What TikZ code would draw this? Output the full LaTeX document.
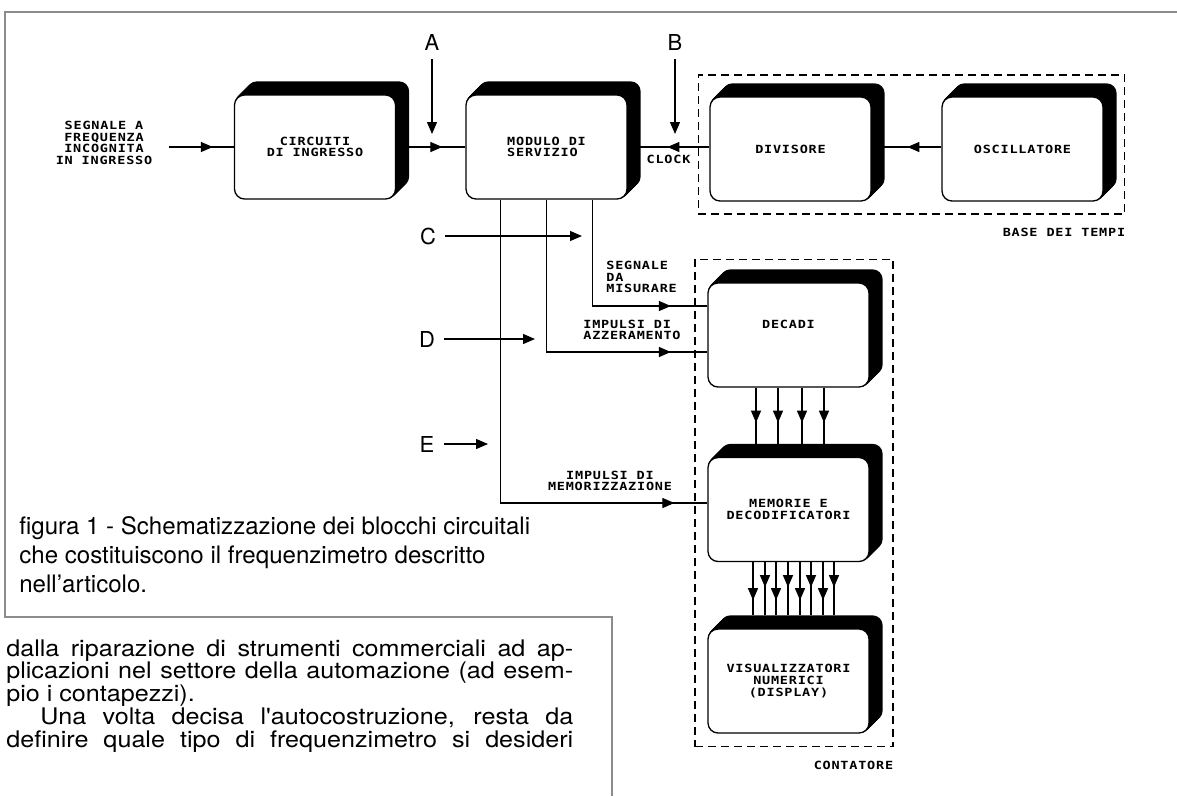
\documentclass[tikz,border=0pt]{standalone}
\usepackage{fontspec}
\setmainfont{TeX Gyre Heros}
\newfontfamily\bodyfont[FakeStretch=1.1]{TeX Gyre Heros}
\newfontfamily\plotfont[FakeStretch=1.2,LetterSpace=7]{DejaVu Sans Mono}
\usepackage{tikz}
\usetikzlibrary{positioning, arrows.meta, decorations.markings, backgrounds}
\definecolor{framegray}{HTML}{8C8C8C}
\newcommand\plotlabel{\plotfont\bfseries\fontsize{6.4}{6.66}\selectfont}

\begin{document}
\begin{tikzpicture}[x=0.02cm, y=-0.02cm,
    block/.style={draw, fill=white, line width=0.75pt, rounded corners=0.2cm,
      minimum width=3.22cm, minimum height=2.08cm, inner sep=0pt, align=center, font=\plotlabel},
    tag/.style={font=\plotlabel, inner sep=0pt},
    letter/.style={font=\fontsize{12.5}{12.5}\selectfont, inner sep=0.18cm},
    dashframe/.style={draw, dash pattern=on 0.16cm off 0.1cm, line width=0.6pt, inner sep=0pt},
    wire/.style={line width=0.7pt},
    arrowed/.style={-{Triangle[length=0.24cm,width=0.2cm]}},
    arrowat/.style={decoration={markings, mark=at position #1 with {\arrow{Triangle[length=0.24cm,width=0.2cm]}}},
      postaction={decorate}},
  ]
  \useasboundingbox (0,0) rectangle (1177,796);

  % page frame
  \draw[framegray, line width=0.8pt] (1177,12) -- (5,12) -- (5,617) -- (612,617) -- (612,796);

  % blocks
  \node[block] (circ) at (315,147) {CIRCUITI\\DI INGRESSO};
  \node[block, align=left] (mod) at (546.5,147) {MODULO DI\\SERVIZIO};
  \node[block] (div) at (790.5,149) {DIVISORE};
  \node[block] (osc) at (1022.5,149) {OSCILLATORE};
  \node[block, text depth=0.44cm] (dec) at (788.5,335) {DECADI};
  \node[block] (mem) at (788.5,509.5) {MEMORIE E\\DECODIFICATORI};
  \node[block] (disp) at (788.5,681) {VISUALIZZATORI\\NUMERICI\\(DISPLAY)};

  % black extrusion behind the blocks
  \begin{scope}[on background layer]
    \foreach \b in {circ,mod,div,osc,dec,mem,disp}
      \foreach \k in {1,...,13}
        \fill[rounded corners=0.2cm] ([xshift=\k*0.02cm, yshift=\k*0.02cm]\b.south west)
          rectangle ([xshift=\k*0.02cm, yshift=\k*0.02cm]\b.north east);
  \end{scope}

  % dashed groups
  \node[dashframe, minimum width=8.54cm, minimum height=2.78cm] (base) at (911.5,144.5) {};
  \node[tag, anchor=east] at ([yshift=-0.36cm]base.south east) {BASE DEI TEMPI};
  \node[dashframe, minimum width=3.96cm, minimum height=9.76cm] (cont) at (794,503) {};
  \node[tag, anchor=east] at ([yshift=-0.36cm]cont.south east) {CONTATORE};

  % input signal
  \node[tag, align=center, inner xsep=0.32cm] (insig) at (104,143) {SEGNALE A\\FREQUENZA\\INCOGNITA\\IN INGRESSO};
  \draw[wire, arrowat=-0.42cm] (insig.east |- circ.west) -- (circ.west);
  \draw[wire, arrowat=-0.46cm] (circ) -- (mod);
  \draw[wire, arrowat=0.68cm] (osc.west |- mod) -- (div.east |- mod);
  \draw[wire, arrowat=0.84cm] (div.west |- mod) -- node[tag, below=0.16cm] {CLOCK} (mod.east);

  % test points
  \node[letter] (labA) at (432,42) {A};
  \node[letter] (labB) at (675,42) {B};
  \node[letter] (labC) at (428,236) {C};
  \node[letter] (labD) at (427,339) {D};
  \node[letter] (labE) at (427,444) {E};
  \coordinate (aEnd) at (432,134);
  \coordinate (bEnd) at (675,134);
  \coordinate (cEnd) at (582,236);
  \coordinate (dEnd) at (535,339);
  \coordinate (eEnd) at (488,444);
  \draw[wire, arrowed] (labA) -- (aEnd);
  \draw[wire, arrowed] (labB) -- (bEnd);
  \draw[wire, arrowed] (labC) -- (cEnd);
  \draw[wire, arrowed] (labD) -- (dEnd);
  \draw[wire, arrowed] (labE) -- (eEnd);

  % service module outputs
  \coordinate (segIn) at ([yshift=0.58cm]dec.west);
  \coordinate (azzIn) at ([yshift=-0.34cm]dec.west);
  \coordinate (memIn) at ([yshift=0.13cm]mem.west);
  \draw[wire, arrowat=-0.73cm] ([xshift=0.92cm]mod.south) |- (segIn);
  \draw[wire, arrowat=-0.73cm] (mod.south) |- (azzIn);
  \draw[wire, arrowat=-0.66cm] ([xshift=-0.92cm]mod.south) |- (memIn);
  \node[tag, align=left, anchor=west] at (606,277) {SEGNALE\\DA\\MISURARE};
  \node[tag, align=left, anchor=west] at (583,330) {IMPULSI DI\\AZZERAMENTO};
  \node[tag, align=center] at (610,481) {IMPULSI DI\\MEMORIZZAZIONE};

  % buses
  \foreach \dx in {-0.65cm,-0.21cm,0.27cm,0.71cm}
    \draw[wire, arrowat=0.7cm] ([xshift=\dx]dec.south) -- ([xshift=\dx, yshift=0.24cm]mem.north);
  \foreach \dx/\tipat in {-0.71cm/0.76cm,-0.47cm/0.5cm,-0.25cm/0.76cm,-0.01cm/0.5cm,
                          0.23cm/0.76cm,0.45cm/0.5cm,0.69cm/0.76cm,0.91cm/0.5cm}
    \draw[wire, arrowat=\tipat] ([xshift=\dx]mem.south) -- ([xshift=\dx, yshift=0.26cm]disp.north);

  % caption and running text
  \node[anchor=north west, align=left, inner sep=0pt, font=\fontsize{13.7}{16.5}\selectfont] (caption) at (19,516)
    {figura 1 - Schematizzazione dei blocchi circuitali\\che costituiscono il frequenzimetro descritto\\nell'articolo.};
  \node[anchor=north west, inner sep=0pt, text width=11.34cm, align=justify] (body) at (6,639)
    {\bodyfont\fontsize{13}{13}\selectfont\tolerance=10000 \hbadness=10000 \lineskiplimit=-5pt
     \noindent dalla riparazione di strumenti commerciali ad ap-\linebreak
     plicazioni nel settore della automazione (ad esem-\linebreak
     pio i contapezzi).\par
     \noindent\hspace*{0.68cm}Una volta decisa l'autocostruzione, resta da\linebreak
     definire quale tipo di frequenzimetro si desideri\parfillskip=0pt\par};
\end{tikzpicture}
\end{document}
